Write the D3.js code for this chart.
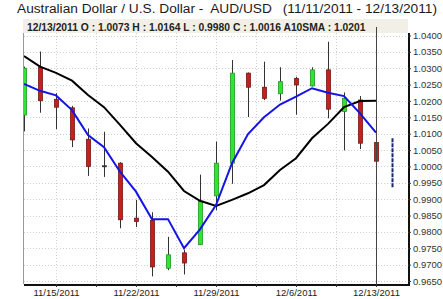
<!DOCTYPE html>
<html>
<head>
<meta charset="utf-8">
<script src="https://cdnjs.cloudflare.com/ajax/libs/d3/7.8.5/d3.min.js"></script>
<style>
  body { margin: 0; background: #fff; }
  svg { display: block; font-family: "Liberation Sans", Arial, sans-serif; }
</style>
</head>
<body>
<svg width="443" height="299"></svg>
<script>
// Handelsdage 11/11/2011 - 12/13/2011
const dates = ["11/11/2011","11/14/2011","11/15/2011","11/16/2011","11/17/2011","11/18/2011",
  "11/21/2011","11/22/2011","11/23/2011","11/24/2011","11/25/2011","11/28/2011","11/29/2011",
  "11/30/2011","12/1/2011","12/2/2011","12/5/2011","12/6/2011","12/7/2011","12/8/2011",
  "12/9/2011","12/12/2011","12/13/2011"];
const open  = [1.0157,1.0303,1.0205,1.0179,1.0083,1.0002,1.0010,0.9842,0.9835,0.9689,0.9736,0.9761,0.9910,
  1.0010,1.0285,1.0242,1.0222,1.0269,1.0246,1.0295,1.0168,1.0203,1.0073];
const high  = [1.0305,1.0351,1.0224,1.0185,1.0116,1.0106,1.0013,0.9898,0.9860,0.9785,0.9746,0.9975,1.0076,
  1.0325,1.0287,1.0320,1.0303,1.0274,1.0303,1.0381,1.0226,1.0215,1.0164];
const low   = [1.0107,1.0164,1.0114,1.0059,0.9971,0.9968,0.9811,0.9815,0.9664,0.9683,0.9670,0.9760,0.9866,
  0.9947,1.0151,1.0203,1.0201,1.0158,1.0244,1.0147,1.0049,1.0053,0.9980];
const close = [1.0300,1.0201,1.0181,1.0081,1.0000,1.0002,0.9837,0.9832,0.9693,0.9730,0.9705,0.9893,1.0010,
  1.0285,1.0242,1.0208,1.0259,1.0249,1.0295,1.0175,1.0208,1.0071,1.0016];
// Sort linje (A10SMA)
const sma10 = [1.0337,1.0305,1.0286,1.0262,1.0218,1.0181,1.0127,1.0071,1.0029,0.9984,0.9925,0.9895,0.9879,
  0.9898,0.9918,0.9943,0.9989,1.0025,1.0086,1.0130,1.0181,1.0200,1.0201];
// Blå linje
const blueLine = [1.0252,1.0231,1.0217,1.0172,1.0096,1.0059,0.9984,0.9923,0.9839,0.9839,0.9750,0.9808,0.9882,
  1.0010,1.0099,1.0150,1.0189,1.0213,1.0239,1.0225,1.0215,1.0162,1.0103];
// Næste dags interval (blå streg)
const nextHigh = 1.0086;
const nextLow = 0.9933;

const yTicks = [1.04,1.035,1.03,1.025,1.02,1.015,1.01,1.005,1.0,0.995,0.99,0.985,0.98,0.975,0.97,0.965];
const xTickLabels = ["11/15/2011","11/22/2011","11/29/2011","12/6/2011","12/13/2011"];

const svg = d3.select("svg");
const pLeft = 24, pRight = 408, pTop = 33, pBottom = 284;

const x = d3.scaleLinear().domain([0, 24]).range([pLeft, pRight]);
const y = d3.scaleLinear().domain([0.965, 1.04]).range([281, 35.5]);

// Titel
svg.append("text").attr("x", 17).attr("y", 13)
  .attr("font-size", 13.7).attr("fill", "#1a1a1a")
  .attr("xml:space", "preserve")
  .text("Australian Dollar / U.S. Dollar -  AUD/USD");
svg.append("text").attr("x", 437).attr("y", 13)
  .attr("font-size", 13.7).attr("fill", "#1a1a1a").attr("text-anchor", "end")
  .text("(" + dates[0] + " - " + dates[dates.length - 1] + ")");

// Info-bjælke
const last = dates.length - 1;
svg.append("rect").attr("x", pLeft - 1).attr("y", 19).attr("width", pRight - pLeft + 1).attr("height", 14)
  .attr("fill", "#f1efe6");
const f4 = d3.format(".4f");
svg.append("text").attr("x", 27).attr("y", 30.5)
  .attr("font-size", 10.3).attr("font-weight", "bold").attr("fill", "#222")
  .text(`${dates[last]} O : ${f4(open[last])} H : ${f4(high[last])} L : ${f4(low[last])} C : ${f4(close[last])} A10SMA : ${f4(sma10[last])}`);

// Gitter
const grid = svg.append("g");
grid.selectAll("line.h").data(yTicks).join("line")
  .attr("x1", pLeft).attr("x2", pRight)
  .attr("y1", d => Math.round(y(d)) + 0.5).attr("y2", d => Math.round(y(d)) + 0.5)
  .attr("stroke", "#cfcfcf").attr("stroke-dasharray", "1,2");
const gridIdx = d3.range(2, 24, 2.5);
grid.selectAll("line.v").data(gridIdx).join("line")
  .attr("x1", d => Math.round(x(d)) + 0.5).attr("x2", d => Math.round(x(d)) + 0.5)
  .attr("y1", pTop).attr("y2", pBottom)
  .attr("stroke", "#cfcfcf").attr("stroke-dasharray", "1,2");

// Klip til plotområdet
svg.append("clipPath").attr("id", "clip").append("rect")
  .attr("x", pLeft).attr("y", pTop).attr("width", pRight - pLeft).attr("height", pBottom - pTop);
const plot = svg.append("g").attr("clip-path", "url(#clip)");

const idx = d3.range(dates.length);

// Stearinlys
const bw = 4;
plot.selectAll("line.wick").data(idx).join("line")
  .attr("x1", i => x(i) + 0.5).attr("x2", i => x(i) + 0.5)
  .attr("y1", i => y(high[i])).attr("y2", i => y(low[i]))
  .attr("stroke", "#333").attr("stroke-width", 1);
plot.selectAll("rect.body").data(idx).join("rect")
  .attr("x", i => x(i) - bw / 2 + 0.5).attr("width", bw)
  .attr("y", i => y(Math.max(open[i], close[i])))
  .attr("height", i => Math.max(1, Math.abs(y(open[i]) - y(close[i]))))
  .attr("fill", i => close[i] > open[i] ? "#2ee62e" : close[i] < open[i] ? "#c42020" : "#333")
  .attr("stroke", i => close[i] > open[i] ? "#1f9a1f" : close[i] < open[i] ? "#7a1414" : "#333")
  .attr("stroke-width", 0.8);

// Linjer
const line = d3.line().x((d, i) => x(i)).y(d => y(d));
plot.append("path").datum(sma10).attr("d", line)
  .attr("fill", "none").attr("stroke", "#000").attr("stroke-width", 2);
plot.append("path").datum(blueLine).attr("d", line)
  .attr("fill", "none").attr("stroke", "#1414e6").attr("stroke-width", 2);

// Næste dag
plot.append("line")
  .attr("x1", x(dates.length) + 0.5).attr("x2", x(dates.length) + 0.5)
  .attr("y1", y(nextHigh)).attr("y2", y(nextLow))
  .attr("stroke", "#1a2672").attr("stroke-width", 2).attr("stroke-dasharray", "4,1");

// Trådkors
svg.append("line")
  .attr("x1", Math.round(x(last)) + 0.5).attr("x2", Math.round(x(last)) + 0.5)
  .attr("y1", 27).attr("y2", pBottom)
  .attr("stroke", "#444").attr("stroke-width", 1);

// Venstre kant
svg.append("line").attr("x1", pLeft - 0.5).attr("x2", pLeft - 0.5).attr("y1", pTop).attr("y2", pBottom)
  .attr("stroke", "#999");

// Y-akse
const yAxis = svg.append("g").attr("transform", `translate(${pRight},0)`)
  .call(d3.axisRight(y).tickValues(yTicks).tickFormat(f4).tickSize(3).tickPadding(2));
yAxis.select(".domain").attr("stroke", "#111").attr("stroke-width", 2)
  .attr("d", `M1,${pTop}V${pBottom + 1}`);
yAxis.selectAll("text").attr("font-size", 9.5).attr("fill", "#333").attr("font-family", null);
yAxis.selectAll(".tick line").attr("stroke", "#333");

// X-akse
const xAxis = svg.append("g").attr("transform", `translate(0,${pBottom})`)
  .call(d3.axisBottom(x).tickValues(gridIdx).tickSize(3)
    .tickFormat(d => xTickLabels.includes(dates[d]) ? dates[d] : ""));
xAxis.select(".domain").attr("stroke", "#111").attr("stroke-width", 2)
  .attr("d", `M${pLeft},1H${pRight + 2}`);
xAxis.selectAll("text").attr("font-size", 9.5).attr("fill", "#222").attr("font-family", null).attr("dy", "0.6em");
xAxis.selectAll(".tick line").attr("stroke", "#333");
</script>
</body>
</html>
